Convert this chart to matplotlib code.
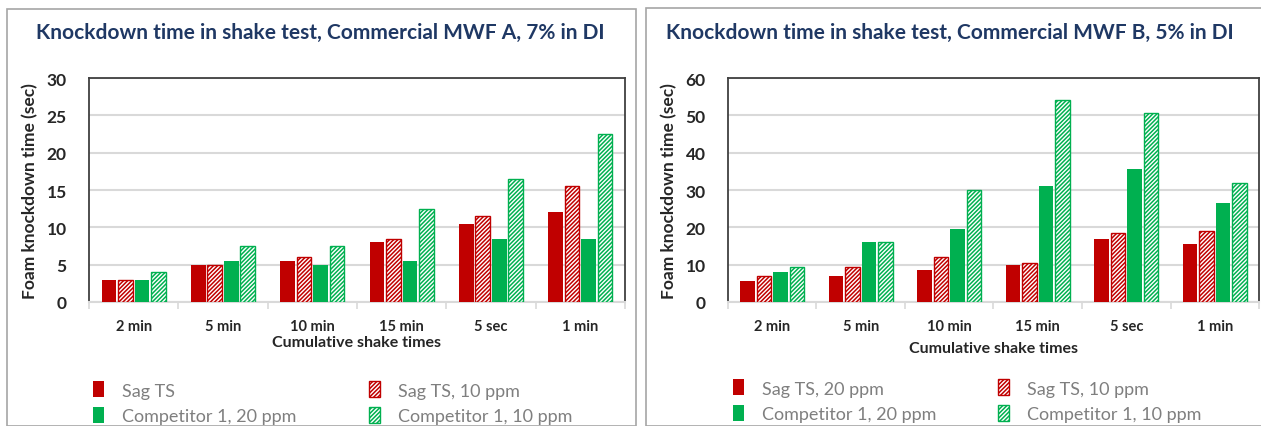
import matplotlib.pyplot as plt
import matplotlib.patches as mpatches
import numpy as np

# shake test data
categories = ['2 min', '5 min', '10 min', '15 min', '5 sec', '1 min']

a_sag_20 = [3, 5, 5.5, 8, 10.5, 12]
a_sag_10 = [3, 5, 6, 8.5, 11.5, 15.5]
a_comp_20 = [3, 5.5, 5, 5.5, 8.5, 8.5]
a_comp_10 = [4, 7.5, 7.5, 12.5, 16.5, 22.5]

b_sag_20 = [5.5, 7, 8.5, 10, 17, 15.5]
b_sag_10 = [7, 9.5, 12, 10.5, 18.5, 19]
b_comp_20 = [8, 16, 19.5, 31, 35.5, 26.5]
b_comp_10 = [9.5, 16, 30, 54, 50.5, 32]

titles = ['Knockdown time in shake test, Commercial MWF A, 7% in DI',
          'Knockdown time in shake test, Commercial MWF B, 5% in DI']
legend_a = ['Sag TS', 'Sag TS, 10 ppm', 'Competitor 1, 20 ppm', 'Competitor 1, 10 ppm']
legend_b = ['Sag TS, 20 ppm', 'Sag TS, 10 ppm', 'Competitor 1, 20 ppm', 'Competitor 1, 10 ppm']

RED = '#C00000'
GREEN = '#00B050'
plt.rcParams['hatch.linewidth'] = 1.1

W, H = 1261, 427
fig = plt.figure(figsize=(W / 100, H / 100), dpi=100)


def px(x0, y0, x1, y1):
    # pixel box -> figure fraction rect
    return [x0 / W, 1 - y1 / H, (x1 - x0) / W, (y1 - y0) / H]


def draw_panel(ax, series, ymax, step, xlabel_pad):
    x = np.arange(len(categories))
    bw = 0.165
    gap = 0.185
    styles = [(RED, False), (RED, True), (GREEN, False), (GREEN, True)]
    handles = []
    for i, (vals, (col, hatched)) in enumerate(zip(series, styles)):
        pos = x + (i - 1.5) * gap
        if hatched:
            b = ax.bar(pos, vals, bw, facecolor='white', edgecolor=col,
                       hatch='////////', linewidth=1.0, zorder=3)
        else:
            b = ax.bar(pos, vals, bw, color=col, zorder=3)
        handles.append(b)
    ax.set_xlim(-0.5, len(categories) - 0.5)
    ax.set_ylim(0, ymax)
    ax.set_yticks(np.arange(0, ymax + 1, step))
    ax.set_xticks(x)
    ax.set_xticklabels(categories)
    ax.set_xticks(np.arange(-0.5, len(categories)), minor=True)
    ax.tick_params(axis='x', which='major', length=0, pad=12)
    ax.tick_params(axis='x', which='minor', length=5, color='#D9D9D9', width=1.2)
    ax.tick_params(axis='y', length=0, pad=16)
    for lab in ax.get_xticklabels() + ax.get_yticklabels():
        lab.set_fontfamily('Lato')
        lab.set_fontweight('bold')
        lab.set_color('#262626')
    for lab in ax.get_xticklabels():
        lab.set_fontsize(10.5)
    for lab in ax.get_yticklabels():
        lab.set_fontsize(12.5)
    ax.grid(axis='y', color='#D9D9D9', linewidth=1.5, zorder=0)
    ax.set_axisbelow(True)
    for s in ['left', 'top', 'right']:
        ax.spines[s].set_color('#404040')
        ax.spines[s].set_linewidth(1.3)
    ax.spines['bottom'].set_color('#D9D9D9')
    ax.spines['bottom'].set_linewidth(1.5)
    ax.set_ylabel('Foam knockdown time (sec)', fontfamily='Lato', fontweight='bold',
                  fontsize=12.5, color='#262626', labelpad=6)
    ax.set_xlabel('Cumulative shake times', fontfamily='Lato', fontweight='bold',
                  fontsize=11.5, color='#262626', labelpad=xlabel_pad)
    return handles


# panel frames
fig.add_artist(mpatches.Rectangle((7 / W, 0), 629 / W, 1 - 10 / H, transform=fig.transFigure,
                                  fill=False, edgecolor='#A6A6A6', linewidth=1.2))
fig.add_artist(mpatches.Rectangle((646 / W, 0), 640 / W, 1 - 9 / H, transform=fig.transFigure,
                                  fill=False, edgecolor='#A6A6A6', linewidth=1.2))

ax1 = fig.add_axes(px(89, 79, 625, 303))
ax2 = fig.add_axes(px(728, 79, 1259, 303))

h1 = draw_panel(ax1, [a_sag_20, a_sag_10, a_comp_20, a_comp_10], 30, 5, 2)
h2 = draw_panel(ax2, [b_sag_20, b_sag_10, b_comp_20, b_comp_10], 60, 10, 6)

fig.text(320 / W, 1 - 33 / H, titles[0], ha='center', va='center', fontsize=15,
         fontfamily='Lato', fontweight='bold', color='#1F3864')
fig.text(950 / W, 1 - 33 / H, titles[1], ha='center', va='center', fontsize=15,
         fontfamily='Lato', fontweight='bold', color='#1F3864')

for h, labels, anchor, cs in [(h1, legend_a, (77 / W, 1 - 366 / H), 4.0),
                              (h2, legend_b, (717 / W, 1 - 364 / H), 3.4)]:
    order = [0, 2, 1, 3]
    fig.legend([h[i] for i in order], [labels[i] for i in order], ncol=2,
               loc='upper left', bbox_to_anchor=anchor, frameon=False,
               handlelength=0.6, handleheight=1.0, handletextpad=1.0,
               columnspacing=cs, labelspacing=0.45,
               prop={'family': 'Lato', 'size': 13}, labelcolor='#7F7F7F')

fig.savefig('out.png', dpi=100)
